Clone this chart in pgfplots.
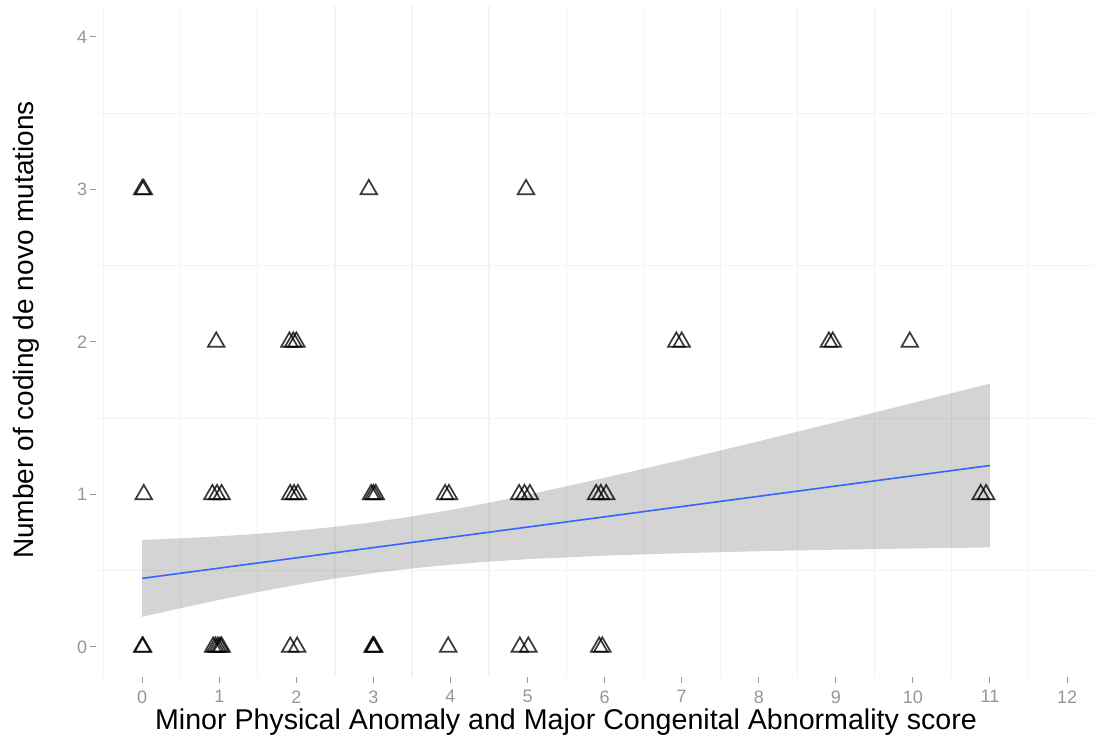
\documentclass[border=0pt]{standalone}
\usepackage{fontspec}
\setmainfont{Liberation Sans}
\usepackage{pgfplots}
\pgfplotsset{compat=1.18}
\definecolor{tickgray}{RGB}{150,150,150}
\definecolor{gridgray}{RGB}{243,243,243}
\definecolor{smoothblue}{RGB}{51,102,255}
\begin{document}
\begin{tikzpicture}[x=1pt,y=1pt]
\path[use as bounding box] (0,0) rectangle (547,371);
\begin{axis}[
  at={(48pt,32.25pt)}, anchor=south west,
  scale only axis, width=499pt, height=335.5pt,
  xmin=-0.6, xmax=12.35, ymin=-0.2, ymax=4.2,
  axis line style={draw=none},
  xtick={0,...,12}, ytick={0,...,4},
  xtick pos=bottom, ytick pos=left,
  minor xtick={-0.5,0.5,1.5,2.5,3.5,4.5,5.5,6.5,7.5,8.5,9.5,10.5,11.5},
  minor ytick={0.5,1.5,2.5,3.5},
  minor grid style={gridgray, line width=0.6pt},
  xminorgrids=true, yminorgrids=true,
  minor tick length=0pt,
  tick align=outside, major tick length=3pt,
  major tick style={tickgray, line width=0.5pt},
  /pgf/number format/assume math mode=true,
  tick label style={font=\fontsize{9}{10}\selectfont, text=tickgray},
  yticklabel style={inner xsep=1.2pt},
  clip=false,
]
% points
\addplot[only marks, mark=triangle, mark size=4.8pt,
  mark options={draw=black, draw opacity=0.78, line width=0.85pt, fill=none}]
  table {
x y
0.00 0
0.01 0
0.92 0
0.95 0
0.98 0
1.01 0
1.03 0
1.92 0
2.01 0
2.99 0
3.00 0
3.01 0
3.97 0
4.90 0
5.01 0
5.93 0
5.97 0
0.02 1
0.91 1
0.97 1
1.03 1
1.92 1
1.97 1
2.02 1
2.97 1
3.00 1
3.03 1
3.93 1
3.98 1
4.89 1
4.96 1
5.03 1
5.89 1
5.95 1
6.02 1
10.88 1
10.95 1
0.96 2
1.91 2
1.96 2
2.00 2
6.93 2
7.00 2
8.91 2
8.96 2
9.96 2
0.00 3
0.02 3
2.94 3
4.98 3
};
% confidence band
\addplot[draw=none, fill=black, fill opacity=0.17] coordinates {
(0,0.702) (0.5,0.713) (1,0.726) (1.5,0.742) (2,0.763) (2.5,0.788) (3,0.819)
(3.5,0.856) (4,0.898) (4.5,0.946) (5,0.998) (6,1.109) (7,1.227) (8,1.349)
(9,1.474) (10,1.600) (11,1.727)
(11,0.653) (10,0.646) (9,0.638) (8,0.628) (7,0.615) (6,0.599) (5,0.576)
(4.5,0.560) (4,0.540) (3.5,0.515) (3,0.485) (2.5,0.449) (2,0.407)
(1.5,0.360) (1,0.309) (0.5,0.255) (0,0.198)
} -- cycle;
% regression line
\addplot[smoothblue, line width=0.8pt] coordinates {(0,0.450) (11,1.190)};
\end{axis}
\node[anchor=base, font=\fontsize{14.3}{16}\selectfont] at (283,6) {Minor Physical Anomaly and Major Congenital Abnormality score};
\node[anchor=base, rotate=90, font=\fontsize{14}{16}\selectfont] at (16.5,206) {Number of coding de novo mutations};
\end{tikzpicture}
\end{document}
